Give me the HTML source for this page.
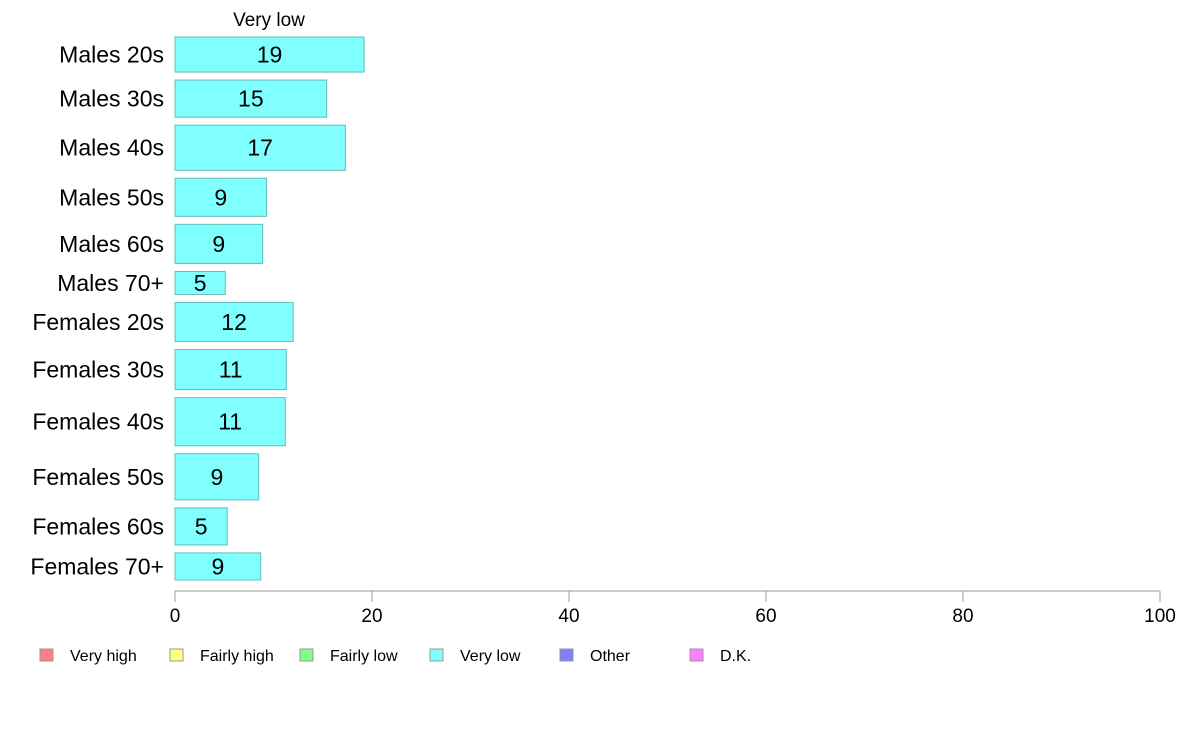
<!DOCTYPE html>
<html><head><meta charset="utf-8"><style>
body{margin:0;background:#fff;font-family:"Liberation Sans",sans-serif}
svg{display:block}
</style></head><body>
<svg id="chart" width="1188" height="736" xmlns="http://www.w3.org/2000/svg">
<text x="269" y="26" font-size="19" text-anchor="middle" fill="#000">Very low</text>
<g id="bars"></g>
<g id="axis"></g>
<g id="legend"></g>
</svg>
<script>
const categories=["Males 20s","Males 30s","Males 40s","Males 50s","Males 60s","Males 70+","Females 20s","Females 30s","Females 40s","Females 50s","Females 60s","Females 70+"];
const values=[19.2,15.4,17.3,9.3,8.9,5.1,12.0,11.3,11.2,8.5,5.3,8.7];
const weights=[35,37,45,38,39,23,39,40,48,46,37,27];
const ticks=[0,20,40,60,80,100];
const legendLabels=["Very high","Fairly high","Fairly low","Very low","Other","D.K."];
const legendColors=["#ff8080","#ffff80","#80ff80","#80ffff","#8080ff","#ff80ff"];
const NS="http://www.w3.org/2000/svg";
const x0=175,x1=1160,yTop=37,yBot=580,gap=8;
const xs=v=>x0+(x1-x0)*v/100;
const totalW=weights.reduce((a,b)=>a+b,0);
const unit=(yBot-yTop-gap*(weights.length-1))/totalW;
function mk(tag,attrs,parent){const e=document.createElementNS(NS,tag);for(const k in attrs)e.setAttribute(k,attrs[k]);parent.appendChild(e);return e;}
const bars=document.getElementById('bars');
let y=yTop;
categories.forEach((c,i)=>{
  const h=weights[i]*unit;
  const r=mk('rect',{x:xs(0),y:y,width:xs(values[i])-xs(0),height:h,fill:'#80ffff',stroke:'#66bcbc','stroke-width':1},bars);
  
  
  const t=mk('text',{x:(xs(0)+xs(values[i]))/2,y:y+h/2+8,'font-size':23,'text-anchor':'middle'},bars);
  t.textContent=Math.round(values[i]);
  
  
  const l=mk('text',{x:164,y:y+h/2+8,'font-size':23,'text-anchor':'end'},bars);
  l.textContent=c;
  
  
  y+=h+gap;
});
const ax=document.getElementById('axis');
const al=mk('line',{x1:xs(0),x2:xs(100),y1:591,y2:591,stroke:'#999'},ax);


ticks.forEach(t=>{
  const tk=mk('line',{x1:xs(t),x2:xs(t),y1:591,y2:602,stroke:'#999'},ax);
  
  
  const tl=mk('text',{x:xs(t),y:622,'font-size':19,'text-anchor':'middle'},ax);
  tl.textContent=t;
  
  
});
const lg=document.getElementById('legend');
const lx=[40,170,300,430,560,690];
legendLabels.forEach((s,i)=>{
  const b=mk('rect',{x:lx[i],y:649,width:13,height:12,fill:legendColors[i],stroke:'#999'},lg);
  
  
  const t=mk('text',{x:lx[i]+30,y:661,'font-size':16},lg);
  t.textContent=s;
  
  
});
</script>
</body></html>
